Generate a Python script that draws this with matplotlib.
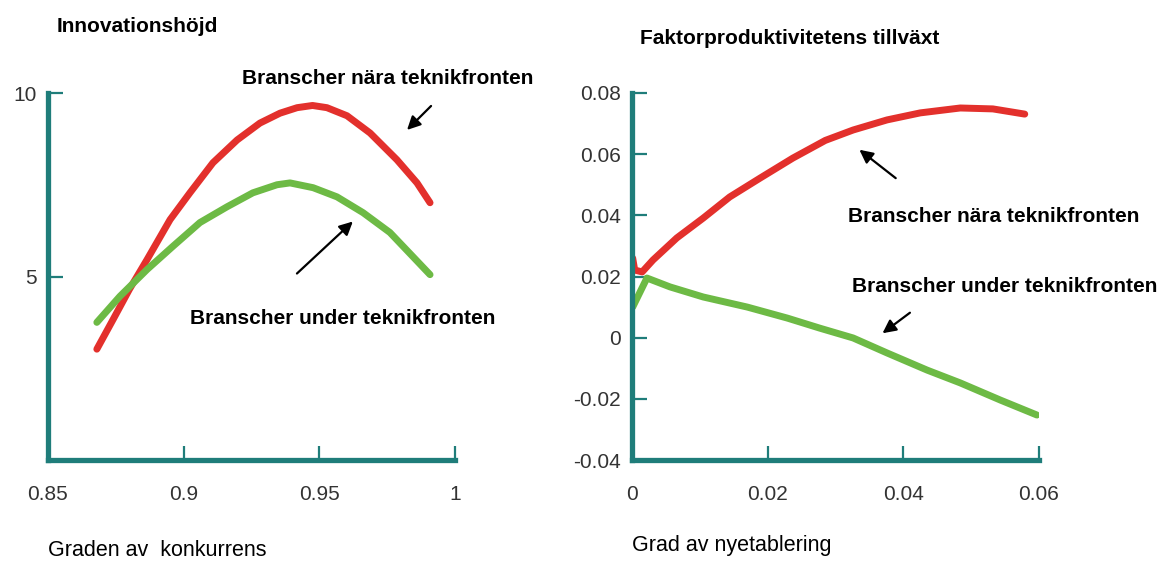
import matplotlib
matplotlib.use("Agg")
import matplotlib.pyplot as plt

# left panel: innovation height vs degree of competition
near_left_x = [0.868, 0.874, 0.880, 0.8865, 0.895, 0.9023, 0.9108, 0.9197, 0.9281, 0.9355,
               0.9418, 0.9475, 0.9528, 0.9602, 0.9687, 0.9786, 0.986, 0.9908]
near_left = [3.02, 3.83, 4.65, 5.46, 6.55, 7.28, 8.10, 8.72, 9.18, 9.45,
             9.60, 9.66, 9.60, 9.38, 8.91, 8.18, 7.55, 7.01]
under_left_x = [0.868, 0.8765, 0.8865, 0.896, 0.906, 0.916, 0.9255, 0.9344, 0.9392,
                0.9477, 0.9565, 0.9661, 0.976, 0.9845, 0.9908]
under_left = [3.75, 4.46, 5.19, 5.82, 6.47, 6.90, 7.28, 7.50, 7.55,
              7.42, 7.17, 6.74, 6.20, 5.54, 5.05]

# right panel: TFP growth vs entry rate
near_right_x = [0.0001, 0.0004, 0.0015, 0.0031, 0.0066, 0.0105, 0.0144, 0.0189, 0.0237,
                0.0285, 0.0326, 0.0376, 0.0425, 0.0484, 0.0532, 0.0579]
near_right = [0.0260, 0.0221, 0.0215, 0.0254, 0.0326, 0.0391, 0.0460, 0.0522, 0.0587,
              0.0645, 0.0679, 0.0712, 0.0735, 0.0751, 0.0748, 0.0731]
under_right_x = [0.0001, 0.0022, 0.0056, 0.0105, 0.017, 0.0229, 0.0277, 0.0326, 0.0376,
                 0.0435, 0.0484, 0.0543, 0.0597]
under_right = [0.0100, 0.0195, 0.0166, 0.0133, 0.0100, 0.0064, 0.0031, -0.0001, -0.0050,
               -0.0106, -0.0148, -0.0204, -0.0253]

left_xticks = [0.85, 0.9, 0.95, 1]
left_xlabels = ['0.85', '0.9', '0.95', '1']
left_yticks = [5, 10]
right_xticks = [0, 0.02, 0.04, 0.06]
right_xlabels = ['0', '0.02', '0.04', '0.06']
right_yticks = [-0.04, -0.02, 0, 0.02, 0.04, 0.06, 0.08]
right_ylabels = ['-0.04', '-0.02', '0', '0.02', '0.04', '0.06', '0.08']

plt.rcParams['font.family'] = ['Liberation Sans Narrow', 'Liberation Sans', 'DejaVu Sans']

RED = '#e3302c'
GREEN = '#6dba45'
TEAL = '#1f7d7a'
W, H = 1172, 562

fig = plt.figure(figsize=(W / 100, H / 100), dpi=100)


def style_axes(ax):
    for side in ['top', 'right']:
        ax.spines[side].set_visible(False)
    for side in ['left', 'bottom']:
        ax.spines[side].set_color(TEAL)
        ax.spines[side].set_linewidth(3.8)
    ax.tick_params(direction='in', color=TEAL, width=1.6, labelsize=15,
                   labelcolor='#333333')
    ax.tick_params(axis='y', length=11, pad=8)
    ax.tick_params(axis='x', length=10, pad=18)


def px(x0, y0, x1, y1):
    return [x0 / W, 1 - y1 / H, (x1 - x0) / W, (y1 - y0) / H]


line_kw = dict(lw=5, solid_capstyle='round', solid_joinstyle='round')

ax1 = fig.add_axes(px(48, 93, 455, 460))
ax1.plot(near_left_x, near_left, color=RED, **line_kw)
ax1.plot(under_left_x, under_left, color=GREEN, **line_kw)
ax1.set_xlim(0.85, 1)
ax1.set_ylim(0, 10)
ax1.set_xticks(left_xticks, left_xlabels)
ax1.set_yticks(left_yticks, [str(v) for v in left_yticks])
style_axes(ax1)
arrow = dict(arrowstyle='-|>', color='black', lw=1.6, mutation_scale=20)
ax1.annotate('', xy=(0.9816, 8.94), xytext=(0.9919, 9.70), arrowprops=arrow,
             annotation_clip=False)
ax1.annotate('', xy=(0.9631, 6.55), xytext=(0.941, 5.03), arrowprops=arrow,
             annotation_clip=False)

ax2 = fig.add_axes(px(632, 93, 1039, 460))
ax2.plot(near_right_x, near_right, color=RED, **line_kw)
ax2.plot(under_right_x, under_right, color=GREEN, **line_kw)
ax2.set_xlim(0, 0.06)
ax2.set_ylim(-0.04, 0.08)
ax2.set_xticks(right_xticks, right_xlabels)
ax2.set_yticks(right_yticks, right_ylabels)
style_axes(ax2)
ax2.annotate('', xy=(0.0332, 0.062), xytext=(0.0392, 0.0516), arrowprops=arrow,
             annotation_clip=False)
ax2.annotate('', xy=(0.0366, 0.0009), xytext=(0.0413, 0.0087), arrowprops=arrow,
             annotation_clip=False)

bold = dict(fontweight='bold', fontsize=15, color='black', va='center', ha='left')
fig.text(57 / W, 1 - 27 / H, 'Innovationshöjd', **bold)
fig.text(640 / W, 1 - 38 / H, 'Faktorproduktivitetens tillväxt', **bold)
fig.text(242 / W, 1 - 78 / H, 'Branscher nära teknikfronten', **bold)
fig.text(190 / W, 1 - 318 / H, 'Branscher under teknikfronten', **bold)
fig.text(848 / W, 1 - 216 / H, 'Branscher nära teknikfronten', **bold)
fig.text(852 / W, 1 - 286 / H, 'Branscher under teknikfronten', **bold)

plain = dict(fontsize=15.5, color='black', va='center', ha='left')
fig.text(48 / W, 1 - 550 / H, 'Graden av  konkurrens', **plain)
fig.text(632 / W, 1 - 545 / H, 'Grad av nyetablering', **plain)

fig.savefig('out.png', dpi=100)
